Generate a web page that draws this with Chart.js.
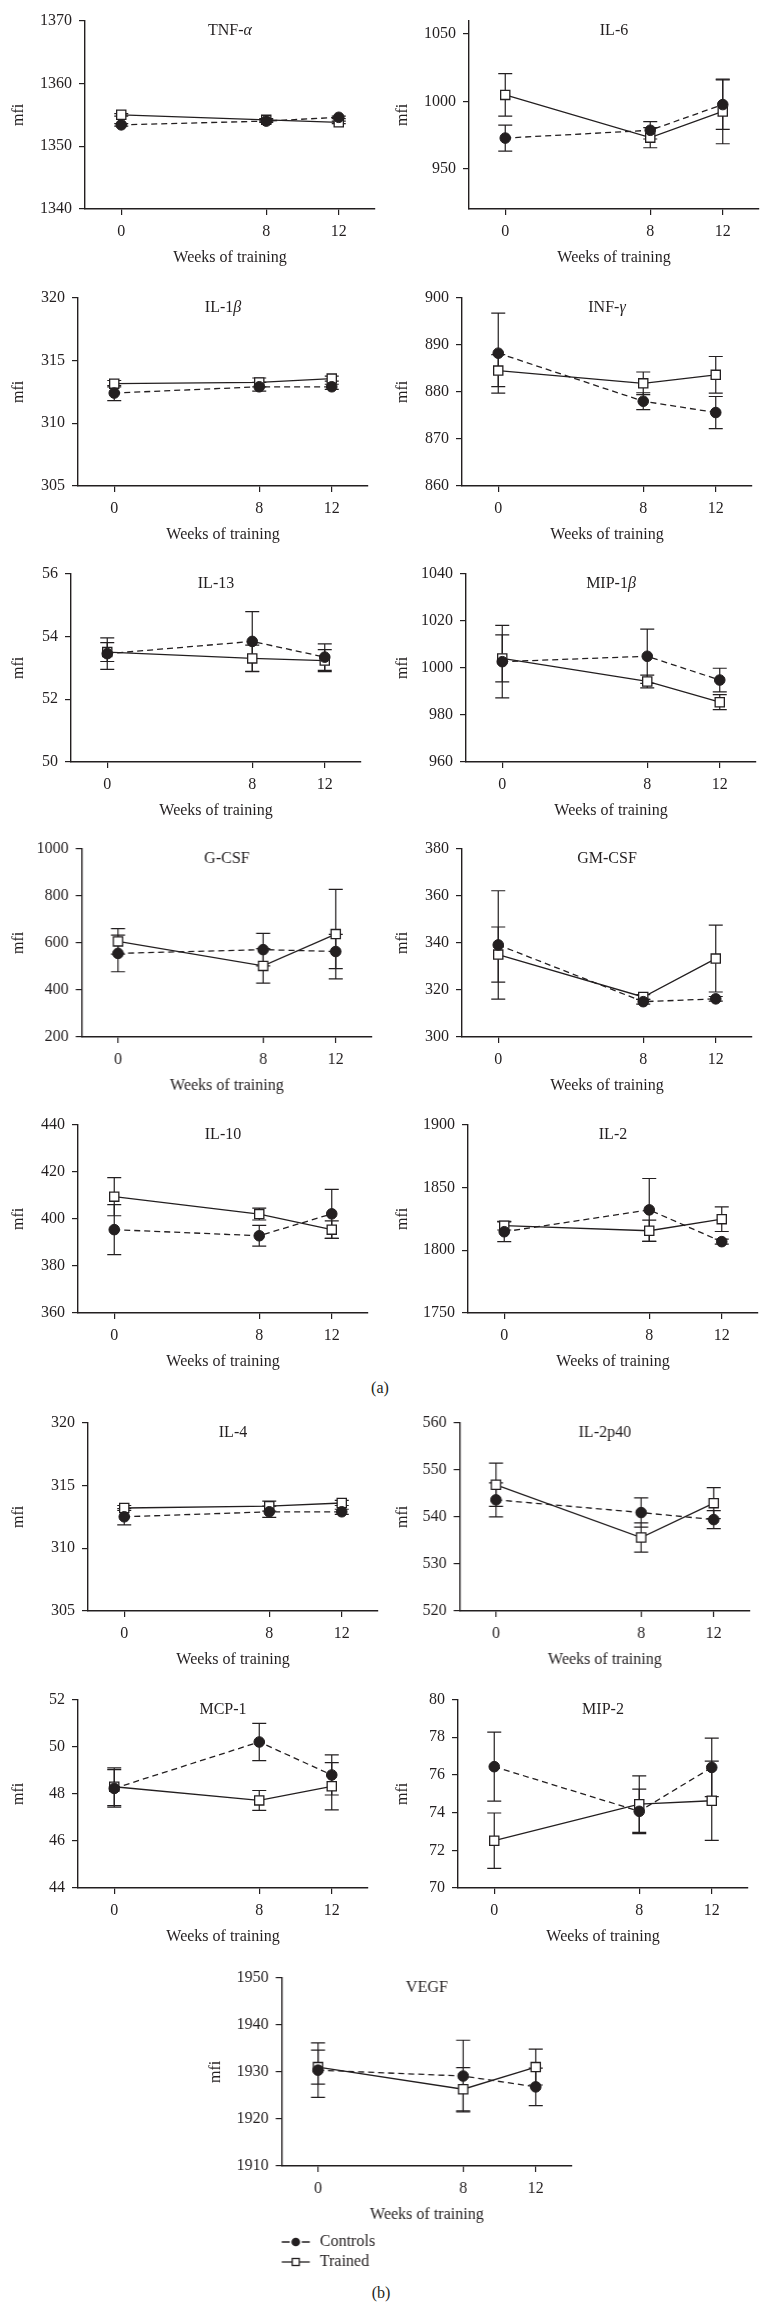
<!DOCTYPE html>
<html>
<head>
<meta charset="utf-8">
<script src="https://cdn.jsdelivr.net/npm/chart.js@4.4.1/dist/chart.umd.min.js"></script>
<style>
  body { margin: 0; background: #fff; width: 768px; height: 2312px; position: relative; overflow: hidden;
         font-family: 'Liberation Serif', 'DejaVu Serif', serif; }
  canvas { position: absolute; }
  .lbl { position: absolute; font-size: 16px; color: #231f20; transform: translate(-50%, -50%); }
</style>
</head>
<body>
<div class="lbl" style="left:380px;top:1388px">(a)</div>
<div class="lbl" style="left:381px;top:2293px">(b)</div>
<script>
// weeks of training (x)
const weeks = [0, 8, 12];
const seriesNames = ['Controls', 'Trained'];

// mean and SEM
const tnfControls = [1353.4, 1354.0, 1354.6], tnfControlsErr = [0.2, 0.2, 0.2];
const tnfTrained = [1355.0, 1354.2, 1353.8], tnfTrainedErr = [0.2, 0.2, 0.2];
const tnfTicks = [1340, 1350, 1360, 1370];

const il6Controls = [972.7, 978.5, 997.6], il6ControlsErr = [9.7, 6.5, 18.4];
const il6Trained = [1004.8, 973.0, 992.5], il6TrainedErr = [15.8, 7.5, 24];
const il6Ticks = [950, 1000, 1050];

const il1bControls = [312.4, 312.9, 312.9], il1bControlsErr = [0.6, 0.35, 0.2];
const il1bTrained = [313.15, 313.25, 313.55], il1bTrainedErr = [0.25, 0.35, 0.2];
const il1bTicks = [305, 310, 315, 320];

const infgControls = [888.2, 878.0, 875.6], infgControlsErr = [8.5, 1.8, 3.4];
const infgTrained = [884.5, 881.8, 883.6], infgTrainedErr = [3.4, 2.4, 3.9];
const infgTicks = [860, 870, 880, 890, 900];

const il13Controls = [53.45, 53.84, 53.34], il13ControlsErr = [0.5, 0.95, 0.42];
const il13Trained = [53.5, 53.3, 53.23], il13TrainedErr = [0.3, 0.42, 0.35];
const il13Ticks = [50, 52, 54, 56];

const mip1bControls = [1002.6, 1004.9, 994.8], mip1bControlsErr = [15.4, 11.5, 5.0];
const mip1bTrained = [1004.0, 994.2, 985.4], mip1bTrainedErr = [10, 2.7, 3.2];
const mip1bTicks = [960, 980, 1000, 1020, 1040];

const gcsfControls = [555, 571, 563], gcsfControlsErr = [78, 69, 73];
const gcsfTrained = [606, 502, 637], gcsfTrainedErr = [54, 73, 190];
const gcsfTicks = [200, 400, 600, 800, 1000];

const gmcsfControls = [339.1, 315.0, 316.2], gmcsfControlsErr = [23, 1, 1];
const gmcsfTrained = [335.0, 317.0, 333.3], gmcsfTrainedErr = [11.7, 1, 14.2];
const gmcsfTicks = [300, 320, 340, 360, 380];

const il10Controls = [395.4, 392.8, 402.1], il10ControlsErr = [10.6, 4.4, 10.4];
const il10Trained = [409.4, 402.0, 395.4], il10TrainedErr = [8.1, 2.5, 3.7];
const il10Ticks = [360, 380, 400, 420, 440];

const il2Controls = [1814.7, 1832.1, 1806.8], il2ControlsErr = [7.9, 25, 2];
const il2Trained = [1819.5, 1815.5, 1824.7], il2TrainedErr = [3.4, 8.5, 9.8];
const il2Ticks = [1750, 1800, 1850, 1900];

const il4Controls = [312.5, 312.9, 312.9], il4ControlsErr = [0.65, 0.45, 0.2];
const il4Trained = [313.2, 313.35, 313.6], il4TrainedErr = [0.2, 0.4, 0.2];
const il4Ticks = [305, 310, 315, 320];

const il2p40Controls = [543.6, 540.9, 539.4], il2p40ControlsErr = [3.6, 3.1, 1.9];
const il2p40Trained = [546.8, 535.6, 542.9], il2p40TrainedErr = [4.6, 3.1, 3.3];
const il2p40Ticks = [520, 530, 540, 550, 560];

const mcp1Controls = [48.23, 50.2, 48.8], mcp1ControlsErr = [0.8, 0.79, 0.85];
const mcp1Trained = [48.3, 47.72, 48.32], mcp1TrainedErr = [0.8, 0.42, 1.0];
const mcp1Ticks = [44, 46, 48, 50, 52];

const mip2Controls = [76.44, 74.07, 76.4], mip2ControlsErr = [1.83, 1.18, 1.55];
const mip2Trained = [72.51, 74.45, 74.63], mip2TrainedErr = [1.47, 1.5, 2.1];
const mip2Ticks = [70, 72, 74, 76, 78, 80];

const vegfControls = [1930.35, 1929.1, 1926.8], vegfControlsErr = [5.8, 7.6, 4.0];
const vegfTrained = [1931.0, 1926.3, 1931.0], vegfTrainedErr = [3.6, 4.6, 3.8];
const vegfTicks = [1910, 1920, 1930, 1940, 1950];

const panels = [
  { title: 'TNF-α',   min: 1340, max: 1370, ticks: tnfTicks,    c: tnfControls,    ce: tnfControlsErr,    t: tnfTrained,    te: tnfTrainedErr },
  { title: 'IL-6',    min: 920,  max: 1060, ticks: il6Ticks,    c: il6Controls,    ce: il6ControlsErr,    t: il6Trained,    te: il6TrainedErr },
  { title: 'IL-1β',   min: 305,  max: 320,  ticks: il1bTicks,   c: il1bControls,   ce: il1bControlsErr,   t: il1bTrained,   te: il1bTrainedErr },
  { title: 'INF-γ',   min: 860,  max: 900,  ticks: infgTicks,   c: infgControls,   ce: infgControlsErr,   t: infgTrained,   te: infgTrainedErr },
  { title: 'IL-13',   min: 50,   max: 56,   ticks: il13Ticks,   c: il13Controls,   ce: il13ControlsErr,   t: il13Trained,   te: il13TrainedErr },
  { title: 'MIP-1β',  min: 960,  max: 1040, ticks: mip1bTicks,  c: mip1bControls,  ce: mip1bControlsErr,  t: mip1bTrained,  te: mip1bTrainedErr },
  { title: 'G-CSF',   min: 200,  max: 1000, ticks: gcsfTicks,   c: gcsfControls,   ce: gcsfControlsErr,   t: gcsfTrained,   te: gcsfTrainedErr },
  { title: 'GM-CSF',  min: 300,  max: 380,  ticks: gmcsfTicks,  c: gmcsfControls,  ce: gmcsfControlsErr,  t: gmcsfTrained,  te: gmcsfTrainedErr },
  { title: 'IL-10',   min: 360,  max: 440,  ticks: il10Ticks,   c: il10Controls,   ce: il10ControlsErr,   t: il10Trained,   te: il10TrainedErr },
  { title: 'IL-2',    min: 1750, max: 1900, ticks: il2Ticks,    c: il2Controls,    ce: il2ControlsErr,    t: il2Trained,    te: il2TrainedErr },
  { title: 'IL-4',    min: 305,  max: 320,  ticks: il4Ticks,    c: il4Controls,    ce: il4ControlsErr,    t: il4Trained,    te: il4TrainedErr },
  { title: 'IL-2p40', min: 520,  max: 560,  ticks: il2p40Ticks, c: il2p40Controls, ce: il2p40ControlsErr, t: il2p40Trained, te: il2p40TrainedErr },
  { title: 'MCP-1',   min: 44,   max: 52,   ticks: mcp1Ticks,   c: mcp1Controls,   ce: mcp1ControlsErr,   t: mcp1Trained,   te: mcp1TrainedErr },
  { title: 'MIP-2',   min: 70,   max: 80,   ticks: mip2Ticks,   c: mip2Controls,   ce: mip2ControlsErr,   t: mip2Trained,   te: mip2TrainedErr },
  { title: 'VEGF',    min: 1910, max: 1950, ticks: vegfTicks,   c: vegfControls,   ce: vegfControlsErr,   t: vegfTrained,   te: vegfTrainedErr, legend: true }
];

// page placement: column start, y-axis x, plot top
const layout = [
  [0, 85, 16],     [384, 469, 16],
  [0, 78, 293],    [384, 462, 293],
  [0, 71, 569],    [384, 466, 569],
  [0, 81.5, 844],  [384, 462, 844],
  [0, 78, 1120],   [384, 468, 1120],
  [0, 88, 1418],   [384, 459.5, 1418],
  [0, 78, 1695],   [384, 458, 1695],
  [197, 281.5, 1973]
];

const ink = '#231f20';
const FONT = { family: "'Liberation Serif', 'DejaVu Serif', serif", size: 16 };
const PLOT_W = 290, PLOT_H = 193, PAD_TOP = 12, PAD_RIGHT = 10, XAXIS_H = 60;

function errorBars(p) {
  return {
    id: 'errorBars',
    beforeDatasetsDraw(chart) {
      const { ctx, scales: { x, y } } = chart;
      ctx.save();
      ctx.strokeStyle = ink;
      ctx.lineWidth = 1.2;
      ctx.setLineDash([]);
      [[p.c, p.ce], [p.t, p.te]].forEach(([m, e]) => {
        m.forEach((v, k) => {
          const px = x.getPixelForValue(weeks[k]);
          const lo = y.getPixelForValue(v - e[k]);
          const hi = y.getPixelForValue(v + e[k]);
          ctx.beginPath();
          ctx.moveTo(px, lo); ctx.lineTo(px, hi);
          ctx.moveTo(px - 7, lo); ctx.lineTo(px + 7, lo);
          ctx.moveTo(px - 7, hi); ctx.lineTo(px + 7, hi);
          ctx.stroke();
        });
      });
      ctx.restore();
    }
  };
}

// panel name inside the plot, Greek letters in italic
function panelTitle(text) {
  return {
    id: 'panelTitle',
    afterDraw(chart) {
      const { ctx, chartArea } = chart;
      const parts = text.split(/([α-ω])/).filter(s => s);
      const fontOf = s => (/[α-ω]/.test(s) ? 'italic ' : '') + FONT.size + 'px ' + FONT.family;
      ctx.save();
      let total = 0;
      parts.forEach(s => { ctx.font = fontOf(s); total += ctx.measureText(s).width; });
      let x = (chartArea.left + chartArea.right) / 2 - total / 2;
      const y = chartArea.top + 10;
      ctx.fillStyle = ink;
      ctx.textBaseline = 'middle';
      ctx.textAlign = 'left';
      parts.forEach(s => { ctx.font = fontOf(s); ctx.fillText(s, x, y); x += ctx.measureText(s).width; });
      ctx.restore();
    }
  };
}

// stacked key under the last panel
const keyPlugin = {
  id: 'key',
  afterDraw(chart) {
    const { ctx, chartArea } = chart;
    const l = chartArea.left;
    const y1 = chartArea.bottom + 76, y2 = y1 + 20;
    ctx.save();
    ctx.strokeStyle = ink; ctx.fillStyle = ink; ctx.lineWidth = 1.3;
    ctx.beginPath();
    ctx.moveTo(l, y1); ctx.lineTo(l + 8, y1);
    ctx.moveTo(l + 20, y1); ctx.lineTo(l + 28, y1);
    ctx.stroke();
    ctx.beginPath(); ctx.arc(l + 14, y1, 4.3, 0, Math.PI * 2); ctx.fill();
    ctx.beginPath(); ctx.moveTo(l, y2); ctx.lineTo(l + 28, y2); ctx.stroke();
    ctx.fillStyle = '#fff';
    ctx.fillRect(l + 10.5, y2 - 3.5, 7, 7);
    ctx.strokeRect(l + 10.5, y2 - 3.5, 7, 7);
    ctx.fillStyle = ink;
    ctx.font = FONT.size + 'px ' + FONT.family;
    ctx.textBaseline = 'middle';
    ctx.fillText(chart.data.datasets[0].label, l + 38, y1);
    ctx.fillText(chart.data.datasets[1].label, l + 38, y2);
    ctx.restore();
  }
};

panels.forEach((p, i) => {
  const [col, axisX, top] = layout[i];
  const extra = p.legend ? 80 : 0;
  const w = axisX + PLOT_W + PAD_RIGHT - col;
  const h = PAD_TOP + PLOT_H + XAXIS_H + extra;
  const canvas = document.createElement('canvas');
  canvas.width = w; canvas.height = h;
  canvas.style.left = col + 'px';
  canvas.style.top = (top - PAD_TOP) + 'px';
  canvas.style.width = w + 'px';
  canvas.style.height = h + 'px';
  document.body.appendChild(canvas);

  const axisCommon = {
    grid: { drawOnChartArea: false, drawTicks: true, tickLength: 6, color: ink, lineWidth: 1.2 },
    border: { display: true, color: ink, width: 1.4 }
  };

  const plugins = [errorBars(p), panelTitle(p.title)];
  if (p.legend) plugins.push(keyPlugin);

  new Chart(canvas, {
    type: 'line',
    data: {
      datasets: [
        {
          label: seriesNames[0],
          data: weeks.map((x, k) => ({ x: x, y: p.c[k] })),
          borderColor: ink, borderWidth: 1.3, borderDash: [6, 4],
          pointStyle: 'circle', pointRadius: 5.3, pointBorderWidth: 1,
          pointBackgroundColor: ink, pointBorderColor: ink, tension: 0
        },
        {
          label: seriesNames[1],
          data: weeks.map((x, k) => ({ x: x, y: p.t[k] })),
          borderColor: ink, borderWidth: 1.3,
          pointStyle: 'rect', pointRadius: 6.5, pointBorderWidth: 1.3,
          pointBackgroundColor: '#fff', pointBorderColor: ink, tension: 0
        }
      ]
    },
    options: {
      responsive: false,
      animation: false,
      devicePixelRatio: 1,
      layout: { padding: { top: PAD_TOP, right: PAD_RIGHT, bottom: extra, left: 0 } },
      plugins: { legend: { display: false }, tooltip: { enabled: false } },
      scales: {
        x: Object.assign({
          type: 'linear', min: -2, max: 14,
          afterBuildTicks: s => { s.ticks = weeks.map(v => ({ value: v })); },
          afterFit: s => { s.height = XAXIS_H; },
          ticks: { callback: v => String(v), color: ink, font: FONT, padding: 7, maxRotation: 0, autoSkip: false },
          title: { display: true, text: 'Weeks of training', color: ink, font: FONT, padding: { top: 0, bottom: 2 } }
        }, axisCommon),
        y: Object.assign({
          type: 'linear', min: p.min, max: p.max,
          afterBuildTicks: s => { s.ticks = p.ticks.map(v => ({ value: v })); },
          afterFit: s => { s.width = axisX - col; },
          ticks: { callback: v => String(v), color: ink, font: FONT, padding: 7, autoSkip: false },
          title: { display: true, text: 'mfi', color: ink, font: FONT, padding: { top: 9, bottom: 0 } }
        }, axisCommon)
      }
    },
    plugins: plugins
  });
});
</script>
</body>
</html>
